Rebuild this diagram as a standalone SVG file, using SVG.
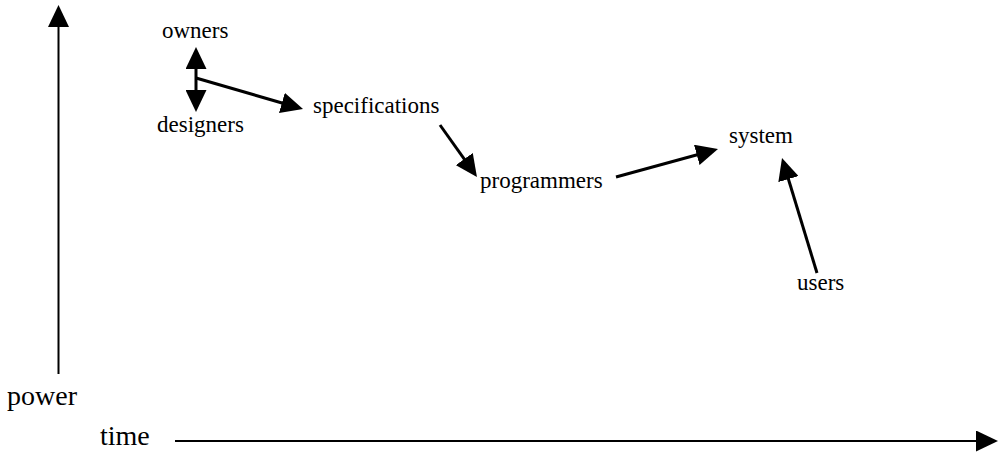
<svg xmlns="http://www.w3.org/2000/svg" width="1000" height="454" viewBox="0 0 1000 454">
<style>
.lbl{font-family:"Liberation Serif","Times New Roman",serif;font-size:23px;fill:#000}
.axl{font-family:"Liberation Serif","Times New Roman",serif;font-size:28px;fill:#000}
.con{stroke:#000;stroke-width:3;fill:none;marker-end:url(#ah)}
.axis{stroke:#000;stroke-width:2;fill:none;marker-end:url(#ah)}
</style>
<defs>
<marker id="ah" viewBox="0 0 22 21" refX="10" refY="10.5" markerWidth="22" markerHeight="21" markerUnits="userSpaceOnUse" orient="auto-start-reverse">
<path d="M0,0 L22,10.5 L0,21 Z" fill="#000"/>
</marker>
</defs>
<g id="connectors">
<line class="axis" x1="58.5" y1="374" x2="58.5" y2="17"/>
<line class="axis" x1="175" y1="441" x2="986" y2="441"/>
<line class="con" x1="196" y1="59" x2="196" y2="100" style="marker-start:url(#ah)"/>
<line class="con" x1="196" y1="78" x2="291.5" y2="105.7"/>
<line class="con" x1="440" y1="125" x2="470" y2="167.2"/>
<line class="con" x1="616" y1="177" x2="706.4" y2="152.2"/>
<line class="con" x1="817" y1="273" x2="785.5" y2="169.5"/>
</g>
<g id="power"><text class="axl" x="7" y="405">power</text></g>
<g id="time"><text class="axl" x="100" y="445">time</text></g>
<g id="owners"><text class="lbl" x="162" y="38">owners</text></g>
<g id="designers"><text class="lbl" x="157" y="132">designers</text></g>
<g id="specifications"><text class="lbl" x="313" y="113">specifications</text></g>
<g id="programmers"><text class="lbl" x="480" y="188">programmers</text></g>
<g id="system"><text class="lbl" x="729" y="143">system</text></g>
<g id="users"><text class="lbl" x="797" y="290">users</text></g>
</svg>
